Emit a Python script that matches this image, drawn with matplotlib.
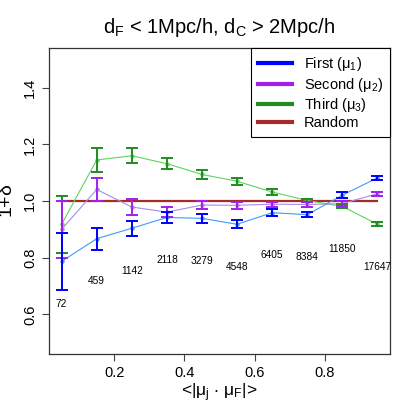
import numpy as np
import matplotlib
matplotlib.use('Agg')
import matplotlib.pyplot as plt
from matplotlib.lines import Line2D

plt.rcParams['font.family'] = ['Liberation Sans', 'DejaVu Sans']
plt.rcParams['mathtext.fontset'] = 'custom'
plt.rcParams['mathtext.rm'] = 'Liberation Sans'
plt.rcParams['mathtext.it'] = 'Liberation Sans'
plt.rcParams['mathtext.default'] = 'regular'

### Data
mu_bins = [0.05, 0.15, 0.25, 0.35, 0.45, 0.55, 0.65, 0.75, 0.85, 0.95]
first = [0.787, 0.867, 0.904, 0.942, 0.939, 0.918, 0.959, 0.952, 1.021, 1.082]
first_err = [0.100, 0.039, 0.027, 0.021, 0.015, 0.014, 0.013, 0.010, 0.010, 0.007]
second = [0.900, 1.041, 0.979, 0.961, 0.986, 0.985, 0.989, 0.988, 0.991, 1.026]
second_err = [0.100, 0.040, 0.027, 0.017, 0.014, 0.013, 0.009, 0.010, 0.008, 0.007]
third = [0.918, 1.145, 1.160, 1.132, 1.094, 1.070, 1.032, 1.002, 0.981, 0.918]
third_err = [0.100, 0.042, 0.026, 0.019, 0.015, 0.013, 0.010, 0.007, 0.007, 0.007]
random_level = [1.0, 1.0]
counts = [72, 459, 1142, 2118, 3279, 4548, 6405, 8384, 11850, 17647]

x = np.array(mu_bins)

fig = plt.figure(figsize=(4.15, 4.15), dpi=100)
ax = fig.add_axes([0.118, 0.147, 0.822, 0.737])

# random baseline
ax.plot([x[0], x[-1]], random_level, color='#A52A2A', lw=1.6, zorder=2)

# (series, errors, line colour, bar colour)
series = [
    (third, third_err, '#5fd35f', '#228B22'),
    (second, second_err, '#a98be8', '#A020F0'),
    (first, first_err, '#3d9bff', '#0000FF'),
]
for vals, errs, lc, bc in series:
    ax.plot(x, vals, color=lc, lw=0.8, marker='o', ms=2.2, zorder=3)
    ax.errorbar(x, vals, yerr=errs, fmt='none', ecolor=bc, elinewidth=1.4,
                capsize=4, capthick=1.4, zorder=4)

# number of objects per bin, under the lowest curve
low = np.min([first, second, third], axis=0)
for xi, yi, n in zip(x, low, counts):
    ax.text(xi, yi - 0.15, str(n), ha='center', va='center', fontsize=7.3)

ax.set_xlim(0.014, 0.986)
ax.set_ylim(0.46, 1.54)
ax.set_xticks([0.2, 0.4, 0.6, 0.8])
ax.set_yticks([0.6, 0.8, 1.0, 1.2, 1.4])
ax.set_yticklabels(['0.6', '0.8', '1.0', '1.2', '1.4'], rotation=90, va='center')
ax.tick_params(labelsize=10.5, length=5, width=0.8, color='#444444')
for s in ax.spines.values():
    s.set_color('#333333')
    s.set_linewidth(0.9)

ax.set_xlabel(r'<|$\mu_j$ $\cdot$ $\mu_F$|>', fontsize=12.5, labelpad=1)
ax.set_ylabel(r'1+$\delta$', fontsize=14, labelpad=5)
fig.text(0.528, 0.933, r'd$_F$ < 1Mpc/h, d$_C$ > 2Mpc/h', ha='center',
         va='center', fontsize=14.5)

handles = [Line2D([], [], color='#0000FF', lw=3),
           Line2D([], [], color='#A020F0', lw=3),
           Line2D([], [], color='#228B22', lw=3),
           Line2D([], [], color='#A52A2A', lw=3)]
labels = [r'First ($\mu_1$)', r'Second ($\mu_2$)', r'Third ($\mu_3$)', 'Random']
leg = ax.legend(handles, labels, loc='upper right', borderaxespad=0,
                fancybox=False, edgecolor='black', framealpha=1,
                fontsize=10.5, handlelength=2.3, labelspacing=0.15,
                borderpad=0.5, handletextpad=0.8)
leg.get_frame().set_linewidth(0.8)

fig.savefig('out.png', dpi=100)
